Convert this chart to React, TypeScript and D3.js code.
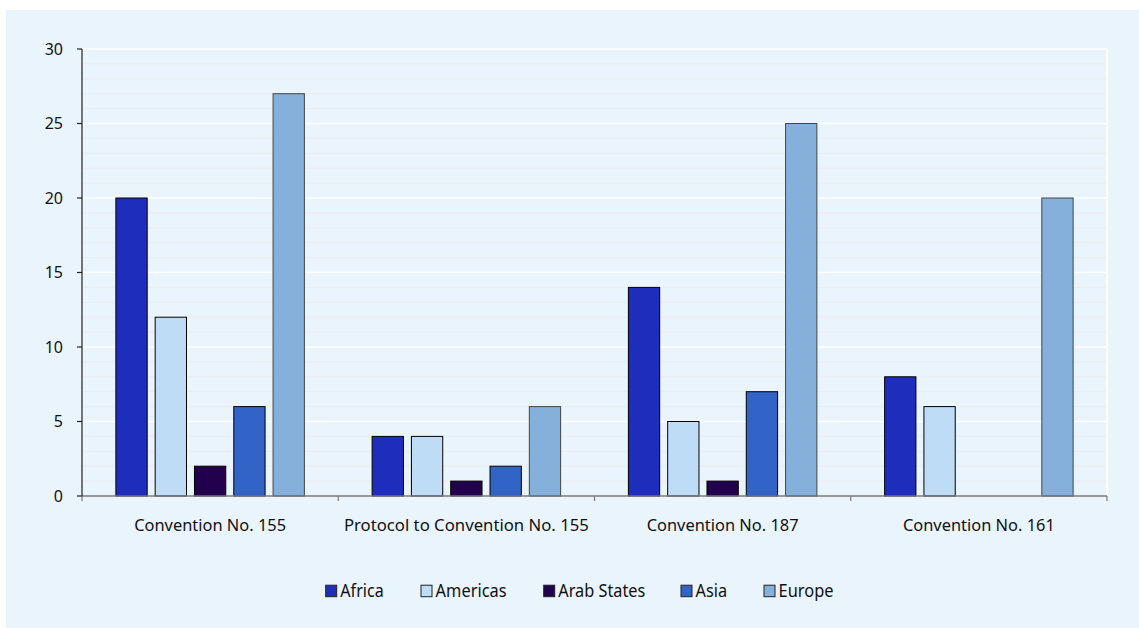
import React from "react";
import * as d3 from "d3";

const categories = ["Convention No. 155", "Protocol to Convention No. 155", "Convention No. 187", "Convention No. 161"];
const regions = ["Africa", "Americas", "Arab States", "Asia", "Europe"];
const africa = [20, 4, 14, 8];
const americas = [12, 4, 5, 6];
const arabStates = [2, 1, 1, 0];
const asia = [6, 2, 7, 0];
const europe = [27, 6, 25, 20];
const yTicks = [0, 5, 10, 15, 20, 25, 30];
const colors = ["#1f2dbd", "#bfdcf7", "#22004e", "#3264c8", "#85b0dc"];
const strokes = ["#000", "#000", "#000", "#000", "#444"];

const series = [africa, americas, arabStates, asia, europe];

export default function App() {
  const W = 1139, H = 628;
  const left = 82, right = 1107, top = 49, bottom = 496;
  const x = d3.scaleBand().domain(categories).range([left, right]).padding(0);
  const y = d3.scaleLinear().domain([0, 30]).range([bottom, top]);
  const barW = 31.3;
  const gap = 8;
  const groupW = regions.length * barW + (regions.length - 1) * gap;
  const minor = d3.range(0, 31, 1).filter((v) => v % 5 !== 0);
  const font = "'Noto Sans', 'Open Sans', sans-serif";
  const legendX = [325.7, 421, 543.7, 681, 764];
  const legendTextW = [43.4, 71, 87, 31.6, 55];
  const catTextW = [152, 245, 152, 152];

  return (
    <svg width={W} height={H} style={{ position: "absolute", left: 0, top: 0 }}>
      <rect x={6} y={10} width={W - 6} height={H - 10} fill="#eaf4fd" />
      {minor.map((v) => (
        <line key={"m" + v} x1={left} x2={right} y1={y(v)} y2={y(v)} stroke="#ecedf0" strokeWidth={1.2} />
      ))}
      {yTicks.filter((v) => v > 0).map((v) => (
        <line key={"g" + v} x1={left} x2={right} y1={y(v)} y2={y(v)} stroke="#ffffff" strokeWidth={1.5} />
      ))}
      <line x1={right} x2={right} y1={top} y2={bottom} stroke="#ffffff" strokeWidth={1.5} />
      {series.map((vals, si) =>
        categories.map((c, ci) => {
          const v = vals[ci];
          if (!v) return null;
          const x0 = (x(c) as number) + (x.bandwidth() - groupW) / 2 + si * (barW + gap);
          return (
            <rect
              key={si + "-" + ci}
              x={x0}
              y={y(v)}
              width={barW}
              height={y(0) - y(v)}
              fill={colors[si]}
              stroke={strokes[si]}
              strokeWidth={1}
            />
          );
        })
      )}
      <line x1={left} x2={right} y1={bottom} y2={bottom} stroke="#7a7a7a" strokeWidth={1.5} />
      {d3.range(0, categories.length + 1).map((i) => {
        const xx = left + i * x.bandwidth();
        return <line key={"xt" + i} x1={xx} x2={xx} y1={bottom} y2={bottom + 5} stroke="#7a7a7a" strokeWidth={1.2} />;
      })}
      <line x1={left} x2={left} y1={top} y2={bottom} stroke="#222" strokeWidth={1.2} />
      {yTicks.map((v) => (
        <g key={"yt" + v}>
          <line x1={left - 5} x2={left} y1={y(v)} y2={y(v)} stroke="#222" strokeWidth={1.2} />
          <text x={63} y={y(v)} dy="0.35em" textAnchor="end" fontFamily={font} fontSize={16} fill="#111">
            {v}
          </text>
        </g>
      ))}
      {categories.map((c, i) => (
        <text
          key={c}
          x={(x(c) as number) + x.bandwidth() / 2}
          y={531}
          textAnchor="middle"
          fontFamily={font}
          fontSize={17}
          fill="#111"
          textLength={catTextW[i]}
          lengthAdjust="spacingAndGlyphs"
        >
          {c}
        </text>
      ))}
      {regions.map((r, i) => (
        <g key={r}>
          <rect x={legendX[i]} y={585.2} width={11} height={11.5} fill={colors[i]} stroke="#222" strokeWidth={1} />
          <text
            x={legendX[i] + 14.6}
            y={596.7}
            fontFamily={font}
            fontSize={17.7}
            fill="#111"
            textLength={legendTextW[i]}
            lengthAdjust="spacingAndGlyphs"
          >
            {r}
          </text>
        </g>
      ))}
    </svg>
  );
}
